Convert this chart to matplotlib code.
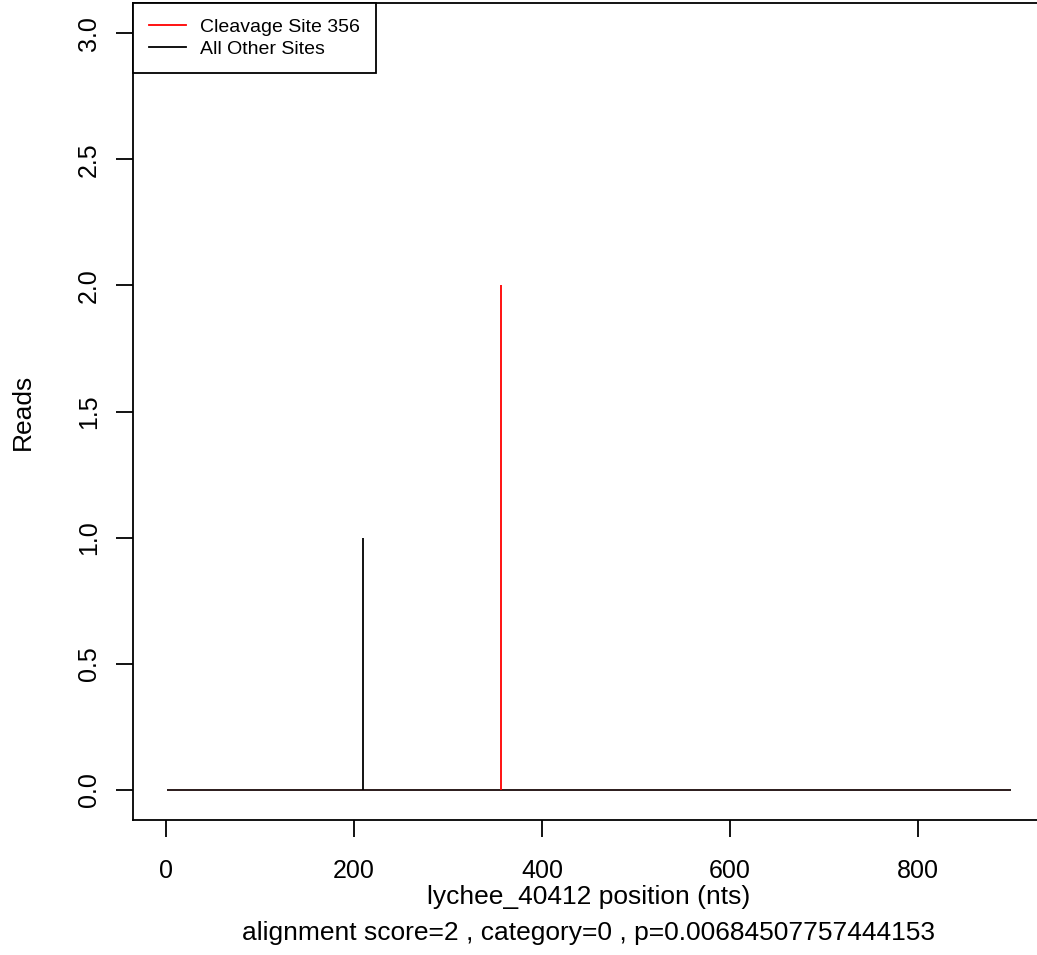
import matplotlib
matplotlib.use("Agg")
import matplotlib.pyplot as plt
from matplotlib.lines import Line2D

plt.rcParams["font.family"] = ["Liberation Sans", "DejaVu Sans"]

# transcript positions and read counts
seq_start = 1
seq_end = 899
other_pos = [210]
other_reads = [1]
site_pos = 356
site_reads = 2

y_ticks = [0.0, 0.5, 1.0, 1.5, 2.0, 2.5, 3.0]
x_ticks = [0, 200, 400, 600, 800]

W, H = 1037, 955
fig = plt.figure(figsize=(W / 100, H / 100), dpi=100)

# axes box in pixels (right edge runs off the image, as in the source)
left, right, top, bottom = 133, 1045, 3, 820
ax = fig.add_axes([left / W, 1 - bottom / H, (right - left) / W, (bottom - top) / H])

ax.plot([seq_start, seq_end], [0, 0], color="#1a0a0a", lw=1.3, solid_capstyle="butt")
ax.vlines(other_pos, 0, other_reads, color="black", lw=1.3)
ax.vlines([site_pos], 0, [site_reads], color="red", lw=1.3)

pad_x = 0.04 * (seq_end - seq_start)
ax.set_xlim(seq_start - pad_x, seq_end + pad_x)
ax.set_ylim(-0.12, 3.12)

ax.set_xticks(x_ticks)
ax.set_xticklabels([str(t) for t in x_ticks])
ax.set_yticks(y_ticks)
ax.set_yticklabels([f"{t:.1f}" for t in y_ticks], rotation=90, va="center")
ax.tick_params(axis="both", direction="out", length=12, width=1.3, labelsize=18)
ax.tick_params(axis="x", pad=16)
ax.tick_params(axis="y", pad=11)

for s in ax.spines.values():
    s.set_linewidth(1.3)

fig.text(589 / W, 1 - 897 / H, "lychee_40412 position (nts)",
         fontsize=19, ha="center", va="center")
fig.text(589 / W, 1 - 933 / H,
         "alignment score=2 , category=0 , p=0.00684507757444153",
         fontsize=19, ha="center", va="center")
fig.text(23 / W, 1 - 412 / H, "Reads", fontsize=19, rotation=90, ha="center", va="center")

handles = [Line2D([], [], color="red", lw=1.3), Line2D([], [], color="black", lw=1.3)]
leg = ax.legend(handles, ["Cleavage Site 356", "All Other Sites"], loc="upper left",
                bbox_to_anchor=(0, 1), borderaxespad=0, fancybox=False, framealpha=1,
                edgecolor="black", fontsize=14, handlelength=1.9, handletextpad=0.75,
                borderpad=0.8, labelspacing=0.2)
leg.get_frame().set_linewidth(1.3)

fig.savefig("out.png", dpi=100)
